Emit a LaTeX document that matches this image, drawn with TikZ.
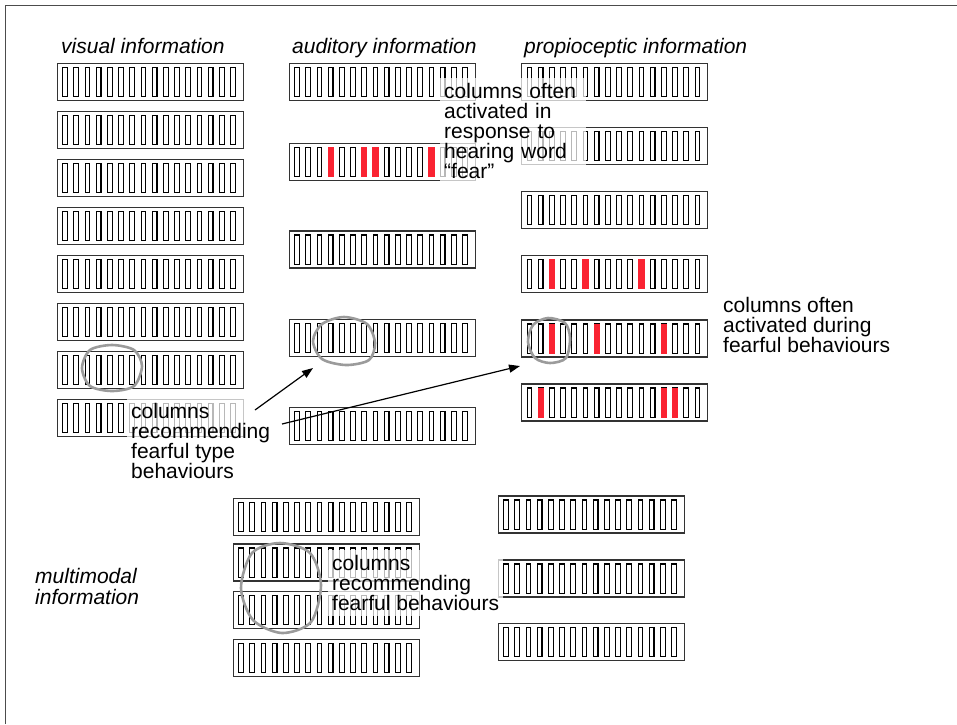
\documentclass[tikz,border=0pt]{standalone}
\usepackage{fontspec}
\setmainfont{Liberation Sans}
\usetikzlibrary{arrows.meta}
\definecolor{redc}{RGB}{250,35,50}
\definecolor{circ}{RGB}{155,155,155}
\tikzset{
  barline/.style={draw=black!80, line width=1.1pt},
  colline/.style={draw=black, line width=1.1pt},
  redcol/.style={fill=redc},
  handcircle/.style={draw=circ, line width=2.6pt},
  lbl/.style={font=\fontsize{21}{20}\selectfont, align=left, anchor=north west, inner xsep=4pt, inner ysep=5pt},
  fadebox/.style={fill=white, fill opacity=0.72, text opacity=1},
  ttl/.style={font=\fontsize{21}{20}\selectfont\itshape, anchor=base west, inner sep=0pt},
  arr/.style={line width=1.2pt, -{Triangle[length=11pt,width=8pt]}},
  framel/.style={draw=black!70, line width=1pt}
}
\newcommand\colbar[3]{%
  \draw[barline] (#1,#2) rectangle ++(186,37);
  \foreach \i in {1,...,16}{%
    \draw[colline] ({#1+5.4+(\i-1)*11.2},{#2+4}) rectangle ++(4.7,29.2);
  }
  \foreach \r in {#3}{%
    \ifnum\r>0
      \fill[redcol] ({#1+5.4+(\r-1)*11.2-0.7},{#2+3.5}) rectangle ++(6.1,30.2);
    \fi
  }
}
\begin{document}
\begin{tikzpicture}[x=1pt,y=-1pt]
\useasboundingbox (0,0) rectangle (957,724);
% frame
\draw[framel] (5,724) -- (5,5) -- (957,5);

% visual bars
\foreach \yy in {63.3,111.3,159.3,207.3,255.3,303.3,351.3,399.3}{\colbar{57.3}{\yy}{0}}
% auditory bars
\colbar{289.3}{63.3}{0}
\colbar{289.3}{143.3}{4,7,8,13}
\colbar{289.3}{231}{0}
\colbar{289.3}{319.3}{0}
\colbar{289.3}{407.7}{0}
% propioceptic bars
\colbar{521.7}{63.3}{0}
\colbar{521.7}{127.7}{0}
\colbar{521.7}{191.7}{0}
\colbar{521.7}{255.7}{3,6,11}
\colbar{521.7}{320}{3,7,13}
\colbar{521.7}{384}{2,13,14}
% multimodal bars
\colbar{233.3}{498.3}{0}
\colbar{233.3}{544}{0}
\colbar{233.3}{591.7}{0}
\colbar{233.3}{639.3}{0}
\colbar{498.3}{496}{0}
\colbar{498.3}{560}{0}
\colbar{498.3}{623.3}{0}

% hand drawn circles
\draw[handcircle] plot[smooth cycle] coordinates {(142,366) (134,350) (112,345) (90,350) (82,368) (90,386) (112,391) (134,386)};
\draw[handcircle] plot[smooth cycle] coordinates {(375,343) (367,324) (344,317) (322,324) (313,341) (322,359) (346,365) (369,360)};
\draw[handcircle] plot[smooth cycle] coordinates {(570,338) (565,323) (548,318) (533,325) (528,342) (535,358) (550,363) (566,358)};
\draw[handcircle] plot[smooth cycle] coordinates {(321,585) (310,553) (280,543) (252,553) (241,588) (253,620) (282,633) (311,622)};

% titles
\node[ttl] (tvis) at (61,53) {visual information};
\node[ttl] (taud) at (292,53) {auditory information};
\node[ttl] (tpro) at (524,53) {propioceptic information};
\node[lbl, font=\fontsize{21}{21}\selectfont\itshape] (tmm) at (31,563) {multimodal\\information};

% labels
\node[lbl, fadebox, text width=138pt] (lfear) at (440,78) {columns often activated in response to hearing word “fear”};
\node[lbl, fadebox] (lrec) at (127,398) {columns\\recommending\\fearful type\\behaviours};
\node[lbl, fadebox] (lmm) at (328,550) {columns\\recommending\\fearful behaviours};
\node[lbl] (lact) at (719,292) {columns often\\activated during\\fearful behaviours};

% arrows
\coordinate (a1s) at (255,410);
\coordinate (a1e) at (313,368);
\coordinate (a2s) at (282,424);
\coordinate (a2e) at (520,366);
\draw[arr] (a1s) -- (a1e);
\draw[arr] (a2s) -- (a2e);
\end{tikzpicture}
\end{document}
